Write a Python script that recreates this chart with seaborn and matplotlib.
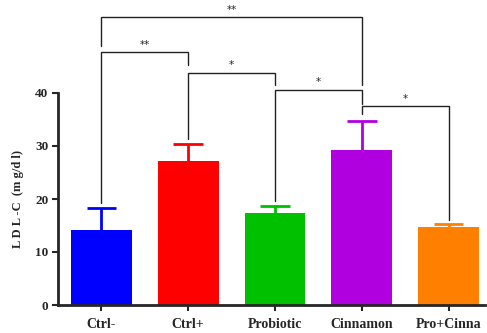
import matplotlib
matplotlib.use("Agg")
import matplotlib.pyplot as plt
import seaborn as sns
import pandas as pd

groups = ["Ctrl-", "Ctrl+", "Probiotic", "Cinnamon", "Pro+Cinna"]
means = [14.2, 27.2, 17.4, 29.3, 14.7]
sds = [4.1, 3.2, 1.3, 5.4, 0.6]
colors = ["#0000FF", "#FF0000", "#00C000", "#B000E0", "#FF8000"]

# significance brackets: (i, j, top, left leg end, right leg end, label)
brackets = [
    (0, 3, 54.3, 48.9, 41.5, "**"),
    (0, 1, 47.7, 19.3, 45.3, "**"),
    (1, 2, 43.8, 31.3, 41.6, "*"),
    (2, 3, 40.6, 19.6, 37.9, "*"),
    (3, 4, 37.5, 36.0, 16.1, "*"),
]

sns.set_style("ticks")
plt.rcParams["font.family"] = ["Liberation Serif", "DejaVu Serif"]

fig = plt.figure(figsize=(4.87, 3.33), dpi=100)
ax = fig.add_axes([58 / 487, 1 - 305 / 333, (485 - 58) / 487, 212 / 333])

df = pd.DataFrame({"group": groups, "value": means})
sns.barplot(data=df, x="group", y="value", hue="group", palette=colors,
            order=groups, errorbar=None, width=0.7, legend=False, ax=ax,
            edgecolor="none", saturation=1)

cap = 0.17
for i, (m, s, c) in enumerate(zip(means, sds, colors)):
    ax.plot([i, i], [m, m + s], color=c, lw=2, zorder=3, solid_capstyle="butt")
    ax.plot([i - cap, i + cap], [m + s, m + s], color=c, lw=2, zorder=3,
            solid_capstyle="butt")

for i, j, top, yl, yr, lab in brackets:
    ax.plot([i, i, j, j], [yl, top, top, yr], color="#222222", lw=1,
            clip_on=False, solid_joinstyle="miter")
    ax.text((i + j) / 2, top + 0.5, lab, ha="center", va="bottom",
            fontsize=7.5, family="DejaVu Sans", clip_on=False)

ax.set_ylim(0, 40)
ax.set_xlim(-0.5, 4.42)
ax.set_yticks([0, 10, 20, 30, 40])
ax.set_yticklabels(["0", "10", "20", "30", "40"], fontweight="bold", fontsize=9.5)
ax.set_xticks(range(len(groups)))
ax.set_xticklabels(groups, fontweight="bold", fontsize=10)
ax.set_xlabel("")
ax.set_ylabel("L D L -C  (m g/d l)", fontweight="bold", fontsize=9, labelpad=8)
for side in ["top", "right"]:
    ax.spines[side].set_visible(False)
for side in ["left", "bottom"]:
    ax.spines[side].set_linewidth(2)
ax.tick_params(axis="both", width=1.5, length=4, pad=3)
ax.tick_params(axis="x", pad=5)

fig.savefig("out.png", dpi=100)
